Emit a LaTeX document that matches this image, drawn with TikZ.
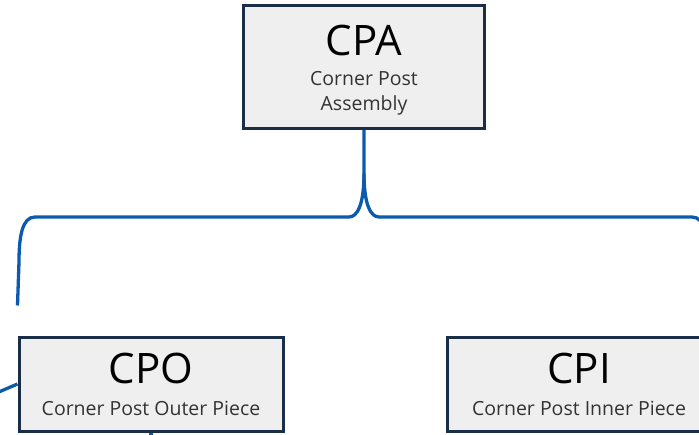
\documentclass[tikz,border=0pt]{standalone}
\usepackage{fontspec}
\setmainfont{Open Sans}
\usetikzlibrary{calc,backgrounds}
\definecolor{boxline}{HTML}{1B2E48}
\definecolor{boxfill}{HTML}{EFEFEF}
\definecolor{wirecol}{HTML}{0B5AAD}
\definecolor{subtext}{HTML}{333333}

\begin{document}
\begin{tikzpicture}[x=1pt,y=-1pt,
    part/.style={rectangle,draw=boxline,fill=boxfill,line width=3pt,inner sep=0pt},
    code/.style={font=\fontsize{42}{42}\selectfont,anchor=base,inner sep=0pt},
    desc/.style={font=\fontsize{19.5}{25}\selectfont,text=subtext,anchor=base,inner sep=0pt,align=center},
    wire/.style={draw=wirecol,line width=3.3pt}]
  \useasboundingbox (0,0) rectangle (699,434);
  \clip (0,0) rectangle (699,434);
  \node[part,minimum width=241pt,minimum height=122.5pt] (cpa) at (364,66.75) {};
  \node[part,minimum width=264pt,minimum height=94pt] (cpo) at (151,384) {};
  \node[part,minimum width=264pt,minimum height=94pt] (cpi) at (579,384) {};
  \node[code] (cpa-code) at ($(cpa.north)+(0,51.5)$) {CPA};
  \node[desc] (cpa-desc) at ($(cpa.north)+(0,106.5)$) {Corner Post\\Assembly};
  \node[code] (cpo-code) at ($(cpo.north)+(0,48)$) {CPO};
  \node[desc] (cpo-desc) at ($(cpo.north)+(0,80)$) {Corner Post Outer Piece};
  \node[code] (cpi-code) at ($(cpi.north)+(0,48)$) {CPI};
  \node[desc] (cpi-desc) at ($(cpi.north)+(0,80)$) {Corner Post Inner Piece};
  \coordinate (tip) at ($(cpa.south)+(0,44)$);
  \coordinate (cpo-top) at ($(cpo.north west)+(0,-30)$);
  \coordinate (right-end) at (712,307);
  \coordinate (feed) at (-20,400);
  \begin{pgfonlayer}{background}
  \draw[wire] (cpa.south) -- (tip) .. controls +(0,32) and +(8,0) .. (349,217) -- (35,217)
    .. controls +(-13,0) and +(0,-25) .. (19,262) -- (cpo-top);
  \draw[wire] (tip) .. controls +(0,32) and +(-8,0) .. (379,217) -- (692,217)
    .. controls +(13,0) and +(0,-25) .. (708,262) -- (right-end);
  \draw[wire] (cpo.south) -- ++(0,20);
  \draw[wire] (feed) -- (cpo.west);
  \end{pgfonlayer}
\end{tikzpicture}
\end{document}
